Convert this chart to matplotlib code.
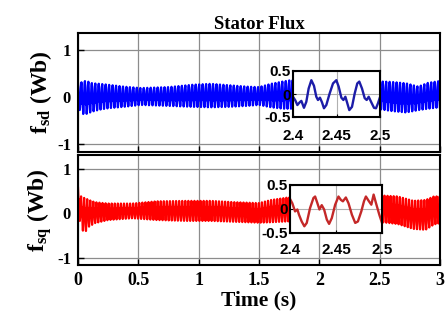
import numpy as np
import matplotlib
matplotlib.use("Agg")
import matplotlib.pyplot as plt

plt.rcParams['axes.unicode_minus'] = False
plt.rcParams['mathtext.fontset'] = 'custom'
plt.rcParams['mathtext.rm'] = 'Liberation Serif'
plt.rcParams['mathtext.bf'] = 'Liberation Serif:bold'
plt.rcParams['mathtext.it'] = 'Liberation Serif:italic'

# ---------------- data ----------------
# zoomed waveform (inset) of f_sd, 2.4 .. 2.5 s
inset_sd_t = [2.4000, 2.4027, 2.4050, 2.4077, 2.4096, 2.4126, 2.4153, 2.4180, 2.4211,
              2.4241, 2.4268, 2.4287, 2.4310, 2.4333, 2.4356, 2.4383, 2.4421, 2.4460,
              2.4498, 2.4525, 2.4556, 2.4579, 2.4602, 2.4624, 2.4647, 2.4678, 2.4709,
              2.4739, 2.4762, 2.4793, 2.4824, 2.4847, 2.4870, 2.4900, 2.4931, 2.4954,
              2.4977, 2.4996]
inset_sd_y = [-0.06, -0.14, -0.24, -0.18, -0.15, -0.30, -0.17, 0.12, 0.30,
              0.18, -0.06, -0.13, -0.08, -0.18, -0.31, -0.24, 0.01, 0.23,
              0.30, 0.16, -0.08, -0.13, -0.06, -0.20, -0.35, -0.28, 0.01,
              0.23, 0.27, 0.12, -0.09, -0.13, -0.06, -0.18, -0.30, -0.31,
              -0.20, -0.09]

# zoomed waveform (inset) of f_sq, 2.4 .. 2.5 s
inset_sq_t = [2.4000, 2.4025, 2.4055, 2.4080, 2.4098, 2.4127, 2.4156, 2.4182, 2.4218,
              2.4255, 2.4273, 2.4298, 2.4320, 2.4345, 2.4371, 2.4400, 2.4425, 2.4454,
              2.4491, 2.4527, 2.4553, 2.4575, 2.4607, 2.4636, 2.4673, 2.4709, 2.4738,
              2.4775, 2.4804, 2.4825, 2.4855, 2.4884, 2.4909, 2.4935, 2.4971, 2.5000]
inset_sq_y = [0.21, 0.12, -0.05, -0.01, -0.12, -0.26, -0.36, -0.29, 0.02,
              0.23, 0.26, 0.12, -0.01, 0.08, -0.01, -0.22, -0.31, -0.19,
              0.09, 0.26, 0.19, 0.16, 0.24, 0.12, -0.12, -0.29, -0.26,
              -0.05, 0.16, 0.26, 0.17, 0.09, 0.30, 0.12, -0.12, -0.29]

# envelopes of the dense oscillation in the main panels (upper / lower edge)
env_sd_t = [0, 0.02, 0.05, 0.08, 0.12, 0.18, 0.25, 0.38, 0.52, 0.75, 0.95, 1.1,
            1.25, 1.4, 1.5, 1.6, 1.7, 1.77, 2.5, 2.6, 2.72, 2.82, 2.9, 3.0]
env_sd_hi = [0.29, 0.30, 0.34, 0.33, 0.29, 0.28, 0.26, 0.22, 0.19, 0.21, 0.26, 0.28,
             0.25, 0.22, 0.21, 0.28, 0.33, 0.36, 0.33, 0.32, 0.29, 0.22, 0.30, 0.34]
env_sd_lo = [-0.22, -0.30, -0.38, -0.35, -0.31, -0.27, -0.24, -0.21, -0.17, -0.19, -0.21, -0.22,
             -0.21, -0.19, -0.17, -0.22, -0.25, -0.25, -0.26, -0.30, -0.33, -0.28, -0.25, -0.22]

env_sq_t = [0, 0.01, 0.03, 0.06, 0.09, 0.14, 0.25, 0.45, 0.65, 0.9, 1.1, 1.3, 1.5,
            1.6, 1.75, 2.52, 2.65, 2.78, 2.88, 2.95, 3.0]
env_sq_hi = [0.57, 0.45, 0.36, 0.34, 0.30, 0.25, 0.22, 0.22, 0.27, 0.28, 0.28, 0.25, 0.23,
             0.30, 0.36, 0.40, 0.38, 0.28, 0.30, 0.38, 0.38]
env_sq_lo = [0.10, -0.10, -0.37, -0.42, -0.30, -0.22, -0.15, -0.11, -0.15, -0.17, -0.17, -0.19, -0.21,
             -0.20, -0.18, -0.20, -0.24, -0.35, -0.37, -0.25, -0.22]

x_ticks = [0, 0.5, 1, 1.5, 2, 2.5, 3]
x_tick_labels = ['0', '0.5', '1', '1.5', '2', '2.5', '3']
y_ticks = [-1, 0, 1]
inset_x_ticks = [2.4, 2.45, 2.5]
inset_x_labels = ['2.4', '2.45', '2.5']
inset_y_ticks = [-0.5, 0, 0.5]
inset_y_labels = ['-0.5', '0', '0.5']


def full_trace(it, iy, i0, i1, et, ehi, elo):
    """Repeat one read cycle of the inset waveform (peak i0 .. peak i1) along the
    time axis, scaled to the read envelope of the main panel."""
    it = np.asarray(it)
    iy = np.asarray(iy)
    ct = it[i0:i1] - it[i0]
    cy = iy[i0:i1]
    period = it[i1] - it[i0]
    norm = (cy - (cy.max() + cy.min()) / 2) / ((cy.max() - cy.min()) / 2)
    n = int(np.ceil(3.0 / period)) + 1
    t = np.concatenate([ct + period * k for k in range(n)])
    p = np.tile(norm, n)
    keep = t <= 3.0
    t, p = t[keep], p[keep]
    hi = np.interp(t, et, ehi)
    lo = np.interp(t, et, elo)
    return t, (hi + lo) / 2 + (hi - lo) / 2 * p


W, H = 448, 322
fig = plt.figure(figsize=(W / 100, H / 100), dpi=100)

serif = 'Liberation Serif'
sans = 'Liberation Sans'


def px_axes(x0, y0, x1, y1):
    return fig.add_axes([x0 / W, 1 - y1 / H, (x1 - x0) / W, (y1 - y0) / H])


ax1 = px_axes(78, 33, 440, 152)
ax2 = px_axes(78, 155, 440, 265)

panels = [
    (ax1, inset_sd_t, inset_sd_y, (8, 18), env_sd_t, env_sd_hi, env_sd_lo, '#0000ff', '#1c1ca8',
     r'$\mathbf{f_{sd}}$ (Wb)', (-1.17, 1.36), (293, 71, 380, 117), 8.5),
    (ax2, inset_sq_t, inset_sq_y, (10, 19), env_sq_t, env_sq_hi, env_sq_lo, '#ff0000', '#c42828',
     r'$\mathbf{f_{sq}}$ (Wb)', (-1.16, 1.31), (290, 185, 382, 233), 7.5),
]

for ax, it, iy, cyc, et, ehi, elo, col, icol, ylab, ylim, ibox, xpad in panels:
    t, y = full_trace(it, iy, cyc[0], cyc[1], et, ehi, elo)
    ax.plot(t, y, color=col, lw=1.6)
    ax.set_xlim(0, 3)
    ax.set_ylim(*ylim)
    ax.set_xticks(x_ticks)
    ax.set_yticks(y_ticks)
    ax.set_yticklabels([str(v) for v in y_ticks], fontfamily=serif,
                       fontweight='bold', fontsize=12)
    ax.grid(True, color='#8c8c8c', lw=0.9)
    ax.tick_params(direction='in', length=4, width=1, pad=5)
    for s in ax.spines.values():
        s.set_linewidth(1.5)
    ax.set_ylabel(ylab, fontfamily=serif, fontweight='bold', fontsize=17, labelpad=2)

    ins = px_axes(*ibox)
    ins.plot(it, iy, color=icol, lw=1.7)
    ins.set_xlim(2.4, 2.5)
    ins.set_ylim(-0.5, 0.5)
    ins.set_xticks(inset_x_ticks)
    ins.set_xticklabels(inset_x_labels, fontfamily=sans, fontweight='bold', fontsize=11)
    ins.set_yticks(inset_y_ticks)
    ins.set_yticklabels(inset_y_labels, fontfamily=sans, fontweight='bold', fontsize=11)
    ins.grid(True, color='#b0b0b0', lw=0.8)
    ins.tick_params(direction='in', length=2, width=0.8, pad=1.5)
    ins.tick_params(axis='x', pad=xpad)
    for s in ins.spines.values():
        s.set_linewidth(1.5)

ax1.set_xticklabels([])
ax2.set_xticklabels(x_tick_labels, fontfamily=serif, fontweight='bold', fontsize=13)
ax2.set_xlabel('Time (s)', fontfamily=serif, fontweight='bold', fontsize=15.5, labelpad=1)
ax1.set_title('Stator Flux', fontfamily=serif, fontweight='bold', fontsize=13.5, pad=3)

fig.savefig('out.png', dpi=100)
